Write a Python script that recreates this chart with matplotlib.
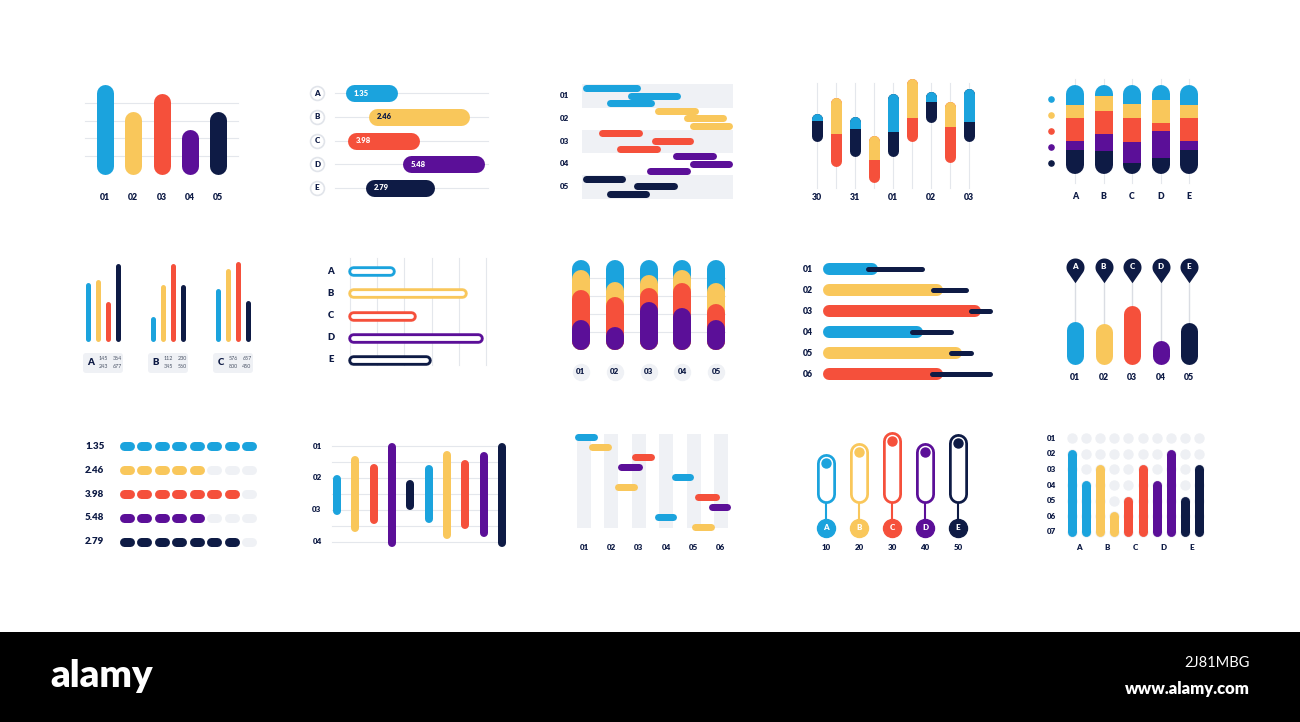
import numpy as np
import matplotlib
matplotlib.use("Agg")
import matplotlib.pyplot as plt
from matplotlib.patches import Rectangle, FancyBboxPatch
from matplotlib.path import Path

W, H = 1300, 722
BLUE, YELLOW, RED, PURPLE, NAVY = "#1BA3DD", "#F9C75B", "#F5503B", "#5B0F98", "#0E1B45"
GRID = "#E4E7EC"
PALE = "#EFF1F5"
FIVE = [BLUE, YELLOW, RED, PURPLE, NAVY]
plt.rcParams["font.family"] = ["Lato", "DejaVu Sans"]

# ---------------- data ----------------
# row 1
r1p1_labels = ["01", "02", "03", "04", "05"]
r1p1_values = [5.0, 3.5, 4.5, 2.5, 3.5]

r1p2_rows = ["A", "B", "C", "D", "E"]
r1p2_start = [0.7, 2.2, 0.8, 4.4, 2.0]
r1p2_end = [4.1, 8.8, 5.5, 9.8, 6.5]
r1p2_text = ["1.35", "2.46", "3.98", "5.48", "2.79"]

r1p3_rows = ["01", "02", "03", "04", "05"]
r1p3_start = [0, 30, 16, 48, 67, 71, 11, 46, 23, 60, 71, 43, 0, 34, 16]
r1p3_end = [39, 65, 48, 77, 96, 100, 40, 74, 52, 89, 100, 72, 29, 63, 45]

r1p4_ticks = ["30", "31", "01", "02", "03"]
r1p4_top = [71, 86, 68, 50, 90, 104, 92, 82, 95]
r1p4_split = [64, 51, 56, 27, 53, 67, 82, 58, 63]
r1p4_low = [44, 20, 30, 5, 30, 44, 62, 24, 44]

r1p5_cats = ["A", "B", "C", "D", "E"]
r1p5_navy = [27, 26, 12, 18, 27]
r1p5_purple = [10, 19, 24, 30, 10]
r1p5_red = [26, 26, 27, 9, 26]
r1p5_yellow = [15, 17, 16, 26, 15]
r1p5_blue = [22, 12, 21, 17, 22]

# row 2
r2p1_groups = ["A", "B", "C"]
r2p1_heights = [[59, 62, 40, 78], [25, 57, 78, 57], [53, 73, 80, 41]]
r2p1_numbers = [["145", "364", "243", "677"], ["112", "230", "345", "560"],
                ["576", "657", "800", "450"]]

r2p2_rows = ["A", "B", "C", "D", "E"]
r2p2_values = [1.65, 4.3, 2.43, 4.9, 3.0]

r2p3_cats = ["01", "02", "03", "04", "05"]
r2p3_purple = [30, 23, 48, 42, 30]
r2p3_red = [30, 30, 14, 25, 16]
r2p3_yellow = [20, 15, 13, 13, 21]
r2p3_blue = [10, 22, 15, 10, 23]

r2p4_rows = ["01", "02", "03", "04", "05", "06"]
r2p4_values = [32.5, 71, 93.5, 59, 82, 71]
r2p4_lo = [25.4, 63.9, 85.8, 50.9, 74, 63.3]
r2p4_hi = [59.8, 85.8, 100, 77.5, 88.8, 100]

r2p5_letters = ["A", "B", "C", "D", "E"]
r2p5_ticks = ["01", "02", "03", "04", "05"]
r2p5_values = [43, 41, 59, 24, 42]

# row 3
r3p1_labels = ["1.35", "2.46", "3.98", "5.48", "2.79"]
r3p1_filled = [8, 5, 7, 5, 7]
r3p1_total = 8

r3p2_ticks = ["01", "02", "03", "04"]
r3p2_lo = [1.9, 1.3, 1.55, 0.9, 2.05, 1.6, 1.15, 1.45, 1.2, 0.9]
r3p2_hi = [3.15, 3.7, 3.45, 4.15, 3.0, 3.4, 3.9, 3.6, 3.85, 4.15]

r3p3_ticks = ["01", "02", "03", "04", "05", "06"]
r3p3_start = [0.64, 1.15, 2.72, 2.24, 4.18, 2.13, 5.05, 5.53, 3.59, 4.94]
r3p3_end = [1.51, 2.02, 3.59, 3.12, 5.01, 2.97, 5.93, 6.36, 4.39, 5.78]

r3p4_letters = ["A", "B", "C", "D", "E"]
r3p4_ticks = ["10", "20", "30", "40", "50"]
r3p4_values = [50, 61, 72, 61, 70]

r3p5_rows = ["01", "02", "03", "04", "05", "06", "07"]
r3p5_cats = ["A", "B", "C", "D", "E"]
r3p5_tops = [2, 4, 3, 6, 5, 3, 4, 2, 5, 3]

# ---------------- helpers ----------------
fig = plt.figure(figsize=(W / 100, H / 100), dpi=100)
fig.patch.set_facecolor("white")


def panel(left, right, top, bottom, xlim, ylim):
    # pixel box of the data area; xlim[0] at left, ylim[0] at bottom
    ax = fig.add_axes([left / W, 1 - bottom / H, (right - left) / W, (bottom - top) / H])
    ax.set_xlim(*xlim)
    ax.set_ylim(*ylim)
    ax.axis("off")
    return ax


def per_px(ax, axis):
    pos = ax.get_position()
    if axis == "x":
        a, b = ax.get_xlim()
        return abs(b - a) / (pos.width * W)
    a, b = ax.get_ylim()
    return abs(b - a) / (pos.height * H)


def capsule(ax, at, lo, hi, color, w, vertical=True, inset=None, seg=None, z=2):
    """rounded bar whose visible extent is [lo, hi]; w = thickness in px"""
    r = (w if inset is None else inset) / 2 * per_px(ax, "y" if vertical else "x")
    lo, hi = min(lo, hi), max(lo, hi)
    a, b = lo + r, hi - r
    if a > b:
        a = b = (lo + hi) / 2
    xs, ys = ([at, at], [a, b]) if vertical else ([a, b], [at, at])
    ln, = ax.plot(xs, ys, color=color, lw=w * 0.72, solid_capstyle="round",
                  zorder=z, clip_on=False)
    if seg is not None:
        s0, s1 = seg
        big = 1e4
        if vertical:
            rect = Rectangle((at - big, s0), 2 * big, s1 - s0, transform=ax.transData)
        else:
            rect = Rectangle((s0, at - big), s1 - s0, 2 * big, transform=ax.transData)
        ln.set_clip_on(True)
        ln.set_clip_path(rect)
    return ln


def label(ax, x, y, s, size=6.3, color=NAVY, weight="heavy", ha="center"):
    ax.text(x, y, s, fontsize=size, fontweight=weight, color=color, ha=ha, va="center",
            clip_on=False, zorder=6)


def hline(ax, y, x0, x1):
    ax.plot([x0, x1], [y, y], color=GRID, lw=0.8, zorder=0, clip_on=False)


def vline(ax, x, y0, y1):
    ax.plot([x, x], [y0, y1], color=GRID, lw=0.8, zorder=0, clip_on=False)


# ---------------- row 1 ----------------
ax = panel(105, 218, 85, 174, (0, 4), (0, 5))
for v in range(1, 5):
    hline(ax, v, -0.71, 4.71)
for i, (lab, v) in enumerate(zip(r1p1_labels, r1p1_values)):
    capsule(ax, i, 0, v, FIVE[i], 17)
    label(ax, i, -1.3, lab)

ax = panel(335, 488, 93, 188, (0, 10), (4, 0))
for i, row in enumerate(r1p2_rows):
    hline(ax, i, 0, 10)
    ax.scatter([-1.18], [i], s=100, fc="white", ec="#E1E4EA", lw=1.2, zorder=3, clip_on=False)
    label(ax, -1.18, i, row, size=5.8)
    capsule(ax, i, r1p2_start[i], r1p2_end[i], FIVE[i], 17, vertical=False)
    label(ax, r1p2_start[i] + 0.55, i, r1p2_text[i], size=5.5,
          color=NAVY if i == 1 else "white", ha="left")

ax = panel(582, 733, 88, 194, (0, 100), (14, 0))
for g, row in enumerate(r1p3_rows):
    if g % 2 == 0:
        ax.add_patch(Rectangle((0, 3 * g - 0.5), 100, 3.1, fc=PALE, ec="none", zorder=0,
                               clip_on=False))
    label(ax, -11.3, 3 * g + 1, row, size=5.8)
for j, (s, e) in enumerate(zip(r1p3_start, r1p3_end)):
    capsule(ax, j, s, e, FIVE[j // 3], 7, vertical=False)

ax = panel(817, 969, 83, 188, (0, 8), (0, 100))
for i in range(9):
    vline(ax, i, 0, 100)
for i in range(9):
    up, down = (BLUE, NAVY) if i % 2 == 0 else (YELLOW, RED)
    capsule(ax, i, r1p4_low[i], r1p4_top[i], down, 11)
    capsule(ax, i, r1p4_low[i], r1p4_top[i], up, 11, seg=(r1p4_split[i], 300), z=3)
for k, t in enumerate(r1p4_ticks):
    label(ax, 2 * k, -8.6, t)

ax = panel(1075, 1189, 85, 174, (0, 4), (0, 100))
stack = [r1p5_navy, r1p5_purple, r1p5_red, r1p5_yellow, r1p5_blue]
stack_col = [NAVY, PURPLE, RED, YELLOW, BLUE]
for i, cat in enumerate(r1p5_cats):
    vline(ax, i, -10, 106.7)
    cum = 0
    for k, (vals, c) in enumerate(zip(stack, stack_col)):
        s0 = cum if k > 0 else -50
        s1 = cum + vals[i] if k < len(stack) - 1 else 150
        capsule(ax, i, 0, 100, c, 18, seg=(s0, s1))
        cum += vals[i]
    label(ax, i, -25.8, cat)
for c, y in zip(FIVE, [84.3, 66.3, 48.3, 30.3, 12.4]):
    ax.scatter([-0.84], [y], s=14, color=c, zorder=3, clip_on=False)

# ---------------- row 2 ----------------
ax = panel(88, 248, 262, 342, (0, 16), (0, 80))
px, py = per_px(ax, "x"), per_px(ax, "y")
for g, grp in enumerate(r2p1_groups):
    x0 = g * 6.5
    for k, h in enumerate(r2p1_heights[g]):
        capsule(ax, x0 + k, 0, h, [BLUE, YELLOW, RED, NAVY][k], 5)
    ax.add_patch(FancyBboxPatch((x0 - 0.5, -31), 4.0, 20,
                                boxstyle=f"round,pad=0,rounding_size={3 * px}",
                                mutation_aspect=py / px, fc=PALE, ec="none",
                                clip_on=False, zorder=1))
    label(ax, x0 + 0.25, -21, grp, size=7)
    n = r2p1_numbers[g]
    for (dx, dy), s in zip([(1.5, -17), (2.9, -17), (1.5, -25), (2.9, -25)], n):
        label(ax, x0 + dx, dy, s, size=3.9, color="#4A5366", weight="normal")

ax = panel(350, 486, 271, 360, (0, 5), (4, 0))
for k in range(6):
    vline(ax, k, -0.58, 4.22)
for i, (row, v) in enumerate(zip(r2p2_rows, r2p2_values)):
    label(ax, -0.7, i, row, size=6.8)
    capsule(ax, i, -0.07, v, FIVE[i], 10.5, vertical=False)
    capsule(ax, i, -0.07, v, "white", 4.8, vertical=False, inset=10.5, z=3)

ax = panel(581, 716, 260, 350, (0, 4), (0, 90))
for v in [18, 36, 54, 72]:
    hline(ax, v, -0.27, 4.27)
for i, cat in enumerate(r2p3_cats):
    p = r2p3_purple[i]
    r = p + r2p3_red[i]
    y = r + r2p3_yellow[i]
    b = y + r2p3_blue[i]
    for z, (top, c) in enumerate([(b, BLUE), (y, YELLOW), (r, RED), (p, PURPLE)]):
        capsule(ax, i, 0, top, c, 18, z=2 + z)
    ax.scatter([i], [-22], s=133, color=PALE, zorder=2, clip_on=False)
    label(ax, i, -22, cat, size=5.8)

ax = panel(823, 992, 269, 374, (0, 100), (5, 0))
for i, row in enumerate(r2p4_rows):
    label(ax, -8.9, i, row, size=6.3)
    capsule(ax, i, 0, r2p4_values[i], [BLUE, YELLOW, RED][i % 3], 12, vertical=False)
    capsule(ax, i, r2p4_lo[i], r2p4_hi[i], NAVY, 5, vertical=False, z=3)

alpha = np.degrees(np.arccos(1 / 1.75))
t = np.radians(np.linspace(-90 + alpha, 270 - alpha, 60))
pin_verts = np.vstack([np.column_stack([np.cos(t), np.sin(t)]), [0, -1.75],
                       [np.cos(t[0]), np.sin(t[0])]])
PIN = Path(pin_verts, closed=True)

ax = panel(1075, 1189, 265, 365, (0, 4), (0, 100))
for i, v in enumerate(r2p5_values):
    ax.plot([i, i], [v, 82], color="#DADDE3", lw=1, zorder=1, clip_on=False)
    ax.plot([i], [98], marker=PIN, ms=22.7, color=NAVY, mec="none", zorder=3, clip_on=False)
    label(ax, i, 98, r2p5_letters[i], size=5.8, color="white")
    capsule(ax, i, 0, v, FIVE[i], 17)
    label(ax, i, -13, r2p5_ticks[i])

# ---------------- row 3 ----------------
ax = panel(127, 249, 446, 542, (1, 8), (4, 0))
for r, (lab, n) in enumerate(zip(r3p1_labels, r3p1_filled)):
    label(ax, -1.41, r, lab, size=7, ha="left")
    for k in range(1, r3p1_total + 1):
        capsule(ax, r, k - 0.43, k + 0.43, FIVE[r] if k <= n else PALE, 9, vertical=False)

ax = panel(337, 502, 446, 542, (0, 9), (4, 1))
for v in np.arange(1, 4.01, 0.5):
    hline(ax, v, -0.27, 9.17)
for k, tk in enumerate(r3p2_ticks):
    label(ax, -1.09, k + 1, tk, size=5.8)
for j, (lo, hi) in enumerate(zip(r3p2_lo, r3p2_hi)):
    capsule(ax, j, lo, hi, FIVE[j % 5], 8)

ax = panel(584, 721, 437, 527, (1, 6), (9, 0))
for c, tk in enumerate(r3p3_ticks, start=1):
    ax.add_patch(Rectangle((c - 0.255, -0.3), 0.51, 9.4, fc=PALE, ec="none", zorder=0,
                           clip_on=False))
    label(ax, c, 11.1, tk, size=5.8)
for j, (s, e) in enumerate(zip(r3p3_start, r3p3_end)):
    capsule(ax, j, s, e, [BLUE, YELLOW, RED, PURPLE][j % 4], 7, vertical=False)

ax = panel(826, 958, 403, 503, (0, 4), (0, 100))
for i, v in enumerate(r3p4_values):
    c = FIVE[i]
    ax.plot([i, i], [0, -25], color=c, lw=1.5, zorder=1, clip_on=False)
    capsule(ax, i, 0, v, c, 19)
    capsule(ax, i, 0, v, "white", 13.5, inset=19, z=3)
    ax.scatter([i], [v - 9.5], s=42, color=c, zorder=4, clip_on=False)
    ax.scatter([i], [-25], s=168, color=c, zorder=4, clip_on=False)
    label(ax, i, -25, r3p4_letters[i], size=5.8, color="white")
    label(ax, i, -45, r3p4_ticks[i], size=5.8)

ax = panel(1072, 1199, 438, 532, (0, 9), (7, 1))
gx, gy = np.meshgrid(np.arange(10), np.arange(1, 8))
ax.scatter(gx.ravel(), gy.ravel(), s=42, color="#EEF0F4", zorder=1, clip_on=False)
for j, top in enumerate(r3p5_tops):
    ax.plot([j, j], [7, top], color=FIVE[j // 2], lw=9 * 0.72, solid_capstyle="round",
            zorder=2, clip_on=False)
for k, row in enumerate(r3p5_rows, start=1):
    label(ax, -1.42, k, row, size=5.8)
for k, cat in enumerate(r3p5_cats):
    label(ax, 2 * k + 0.5, 8.0, cat, size=5.8)

# ---------------- footer ----------------
fig.patches.append(Rectangle((0, 0), 1, 90 / H, transform=fig.transFigure, fc="black",
                             ec="none", zorder=0))
fig.text(50 / W, 1 - 676 / H, "alamy", fontsize=27.5, fontweight="heavy", color="white",
         ha="left", va="center")
fig.text(1250 / W, 1 - 689 / H, "www.alamy.com", fontsize=12, fontweight="heavy",
         color="white", ha="right", va="center")
fig.text(1250 / W, 1 - 663 / H, "2J81MBG", fontsize=10.5, color="white", ha="right",
         va="center")

fig.savefig("out.png", dpi=100)
